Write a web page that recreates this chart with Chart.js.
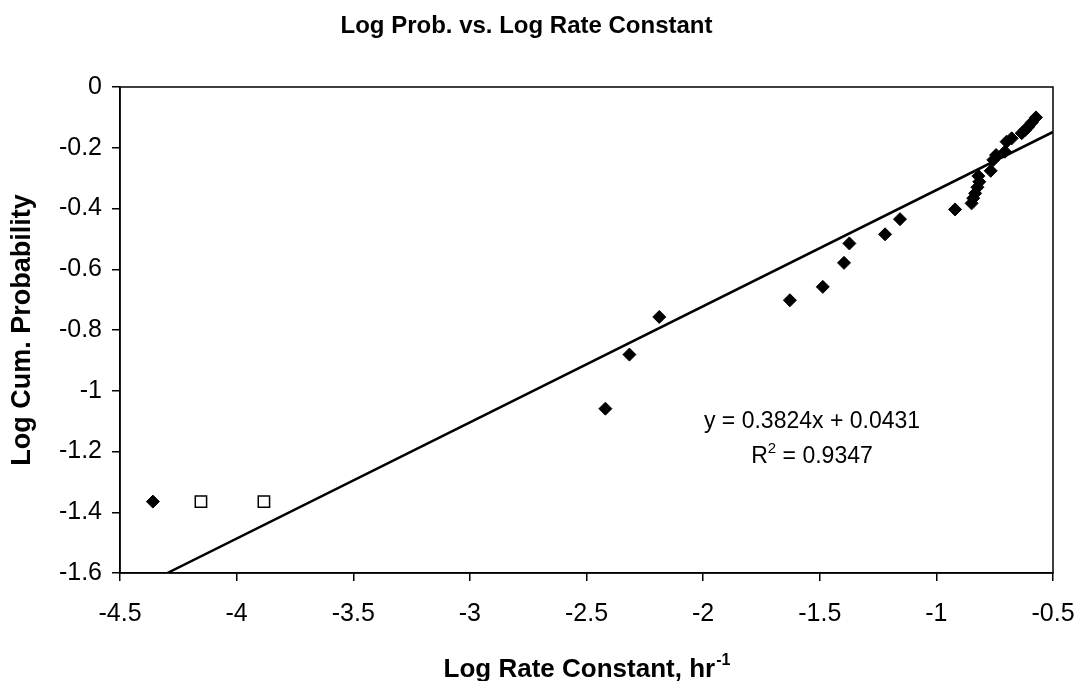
<!DOCTYPE html>
<html>
<head>
<meta charset="utf-8">
<title>Log Prob. vs. Log Rate Constant</title>
<script src="https://cdn.jsdelivr.net/npm/chart.js@4.4.1/dist/chart.umd.min.js"></script>
<style>
  html, body { margin:0; padding:0; background:#fff; }
  #wrap { width:1081px; height:681px; }
</style>
</head>
<body>
<div id="wrap"><canvas id="chart" width="1081" height="681"></canvas></div>
<script>
/* ── Data ── */
const FILLED_X = [-4.359, -2.419, -2.316, -2.188, -1.628, -1.487, -1.396, -1.373, -1.220, -1.156,
                  -0.920, -0.849, -0.842, -0.834, -0.824, -0.816, -0.820, -0.767, -0.756, -0.744,
                  -0.706, -0.699, -0.677, -0.634, -0.620, -0.606, -0.591, -0.573];
const FILLED_Y = [-1.365, -1.059, -0.881, -0.757, -0.702, -0.658, -0.579, -0.515, -0.485, -0.435,
                  -0.403, -0.383, -0.366, -0.350, -0.330, -0.312, -0.293, -0.276, -0.240, -0.224,
                  -0.213, -0.180, -0.169, -0.152, -0.142, -0.131, -0.117, -0.100];
const OPEN_X = [-4.153, -3.883];
const OPEN_Y = [-1.365, -1.365];

/* ── Linear trend (from the equation on the chart) ── */
const SLOPE = 0.3824;
const INTERCEPT = 0.0431;
const R2 = 0.9347;
const TREND_X = [-4.297, -0.5];

const X_TICKS = [-4.5, -4, -3.5, -3, -2.5, -2, -1.5, -1, -0.5];
const Y_TICKS = [0, -0.2, -0.4, -0.6, -0.8, -1, -1.2, -1.4, -1.6];

const FONT = 'Liberation Sans, Arial, sans-serif';

const toPts = (xs, ys) => xs.map((x, i) => ({ x, y: ys[i] }));

/* ── plot frame, x title with superscript, regression label ── */
const extras = {
  id: 'extras',
  beforeDatasetsDraw(chart) {
    const { ctx, chartArea: a } = chart;
    ctx.save();
    ctx.strokeStyle = '#000';
    ctx.lineWidth = 1.5;
    ctx.strokeRect(a.left, a.top, a.right - a.left, a.bottom - a.top);
    ctx.restore();
  },
  afterDraw(chart) {
    const { ctx, chartArea: a } = chart;
    ctx.save();
    ctx.fillStyle = '#000';
    ctx.textBaseline = 'alphabetic';

    // x axis title: Log Rate Constant, hr^-1
    const main = 'Log Rate Constant, hr';
    const sup = '-1';
    ctx.font = 'bold 26px ' + FONT;
    const w1 = ctx.measureText(main).width;
    ctx.font = 'bold 16px ' + FONT;
    const w2 = ctx.measureText(sup).width;
    const cx = (a.left + a.right) / 2;
    const x0 = cx - (w1 + w2) / 2;
    const by = 677;
    ctx.textAlign = 'left';
    ctx.font = 'bold 26px ' + FONT;
    ctx.fillText(main, x0, by);
    ctx.font = 'bold 16px ' + FONT;
    ctx.fillText(sup, x0 + w1 + 1, by - 12);

    // regression equation
    const ex = 812;
    ctx.font = '23px ' + FONT;
    ctx.textAlign = 'center';
    ctx.fillText('y = ' + SLOPE.toFixed(4) + 'x + ' + INTERCEPT.toFixed(4), ex, 428);
    const rest = ' = ' + R2.toFixed(4);
    const wr = ctx.measureText('R').width;
    const wrest = ctx.measureText(rest).width;
    ctx.font = '15px ' + FONT;
    const w2s = ctx.measureText('2').width;
    const rx = ex - (wr + w2s + wrest) / 2;
    ctx.textAlign = 'left';
    ctx.font = '23px ' + FONT;
    ctx.fillText('R', rx, 463);
    ctx.font = '15px ' + FONT;
    ctx.fillText('2', rx + wr, 453);
    ctx.font = '23px ' + FONT;
    ctx.fillText(rest, rx + wr + w2s, 463);
    ctx.restore();
  }
};

new Chart(document.getElementById('chart'), {
  type: 'scatter',
  data: {
    datasets: [
      {
        label: 'Data',
        data: toPts(FILLED_X, FILLED_Y),
        pointStyle: 'rectRot',
        pointRadius: 6.5,
        backgroundColor: '#000',
        borderColor: '#000',
        borderWidth: 1
      },
      {
        label: 'Excluded',
        data: toPts(OPEN_X, OPEN_Y),
        pointStyle: 'rect',
        pointRadius: 8,
        backgroundColor: '#fff',
        borderColor: '#000',
        borderWidth: 1.5
      },
      {
        type: 'line',
        label: 'Linear',
        data: TREND_X.map(x => ({ x, y: SLOPE * x + INTERCEPT })),
        borderColor: '#000',
        borderWidth: 2.5,
        pointRadius: 0,
        fill: false
      }
    ]
  },
  options: {
    responsive: false,
    animation: false,
    layout: { padding: { left: 0, right: 28, top: 0, bottom: 0 } },
    plugins: {
      legend: { display: false },
      tooltip: { enabled: false },
      title: {
        display: true,
        text: 'Log Prob. vs. Log Rate Constant',
        color: '#000',
        font: { family: FONT, size: 24, weight: 'bold' },
        padding: { top: 12, bottom: 46.2 }
      }
    },
    scales: {
      x: {
        type: 'linear',
        min: -4.5, max: -0.5,
        afterBuildTicks: s => { s.ticks = X_TICKS.map(v => ({ value: v })); },
        afterFit: s => { s.height = 108; s.paddingLeft = 0; s.paddingRight = 0; },
        grid: { display: true, drawOnChartArea: false, drawTicks: true, tickLength: 8, color: '#000', lineWidth: 1.5 },
        border: { display: true, color: '#000', width: 1.5 },
        ticks: { color: '#000', font: { family: FONT, size: 25 }, padding: 18, maxRotation: 0, callback: v => String(v) }
      },
      y: {
        type: 'linear',
        min: -1.6, max: 0,
        afterBuildTicks: s => { s.ticks = Y_TICKS.map(v => ({ value: v })); },
        afterFit: s => { s.width = 120; },
        grid: { display: true, drawOnChartArea: false, drawTicks: true, tickLength: 8, color: '#000', lineWidth: 1.5 },
        border: { display: true, color: '#000', width: 1.5 },
        ticks: { color: '#000', font: { family: FONT, size: 25 }, padding: 10, callback: v => String(v) },
        title: {
          display: true,
          text: 'Log Cum. Probability',
          color: '#000',
          font: { family: FONT, size: 27, weight: 'bold' },
          padding: { top: 6, bottom: 0 }
        }
      }
    }
  },
  plugins: [extras]
});
</script>
</body>
</html>
